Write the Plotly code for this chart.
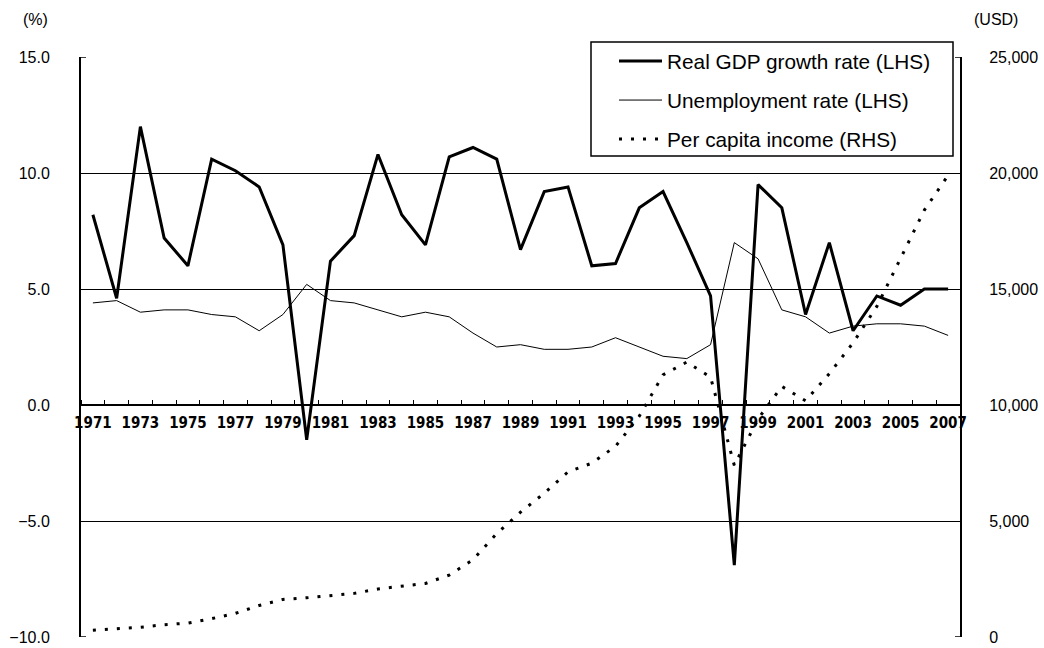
import plotly.graph_objects as go

years = list(range(1971, 2008))

gdp_growth = [8.2, 4.6, 12.0, 7.2, 6.0, 10.6, 10.1, 9.4, 6.9, -1.5,
              6.2, 7.3, 10.8, 8.2, 6.9, 10.7, 11.1, 10.6, 6.7, 9.2,
              9.4, 6.0, 6.1, 8.5, 9.2, 7.0, 4.7, -6.9, 9.5, 8.5,
              3.9, 7.0, 3.2, 4.7, 4.3, 5.0, 5.0]

unemployment = [4.4, 4.5, 4.0, 4.1, 4.1, 3.9, 3.8, 3.2, 3.9, 5.2,
                4.5, 4.4, 4.1, 3.8, 4.0, 3.8, 3.1, 2.5, 2.6, 2.4,
                2.4, 2.5, 2.9, 2.5, 2.1, 2.0, 2.6, 7.0, 6.3, 4.1,
                3.8, 3.1, 3.4, 3.5, 3.5, 3.4, 3.0]

per_capita_income = [290, 340, 420, 530, 600, 790, 1020, 1360, 1620, 1690,
                     1800, 1880, 2070, 2200, 2310, 2670, 3330, 4460, 5380, 6200,
                     7120, 7490, 8220, 9520, 11300, 11850, 11200, 7400, 9400, 10800,
                     10180, 11350, 12680, 14250, 16350, 18400, 19900]

left_ticks = [-10, -5, 0, 5, 10, 15]
right_ticks = [0, 5000, 10000, 15000, 20000, 25000]
label_years = list(range(1971, 2008, 2))

font_main = "Liberation Sans, Arial, sans-serif"
font_years = "DejaVu Sans Condensed, Liberation Sans Narrow, Arial Narrow, sans-serif"

# plot-area geometry in pixels
plot_l, plot_r, plot_t, plot_b = 81, 960, 57, 637
W, H = 1044, 648


def px_x(px):
    return (px - plot_l) / (plot_r - plot_l)


def px_y(py):
    return (plot_b - py) / (plot_b - plot_t)


fig = go.Figure()
fig.add_trace(go.Scatter(
    x=years, y=gdp_growth, mode="lines", name="Real GDP growth rate (LHS)",
    line=dict(color="black", width=3), legendgroup="a"))
fig.add_trace(go.Scatter(
    x=years, y=unemployment, mode="lines", name="Unemployment rate (LHS)",
    line=dict(color="black", width=1), legendgroup="b"))
fig.add_trace(go.Scatter(
    x=years, y=per_capita_income, mode="lines", name="Per capita income (RHS)",
    line=dict(color="black", width=3, dash="3px,9px"), yaxis="y2", legendgroup="c"))

# small end ticks at the top and bottom of both vertical axes
end_tick_len = 5 / (plot_r - plot_l)
end_ticks = []
for yv in (left_ticks[0], left_ticks[-1]):
    end_ticks.append(dict(type="line", xref="paper", yref="y",
                          x0=0, x1=end_tick_len, y0=yv, y1=yv,
                          line=dict(color="black", width=1.5)))
for yv in (right_ticks[0], right_ticks[-1]):
    end_ticks.append(dict(type="line", xref="paper", yref="y2",
                          x0=1 - end_tick_len, x1=1, y0=yv, y1=yv,
                          line=dict(color="black", width=1.5)))

fig.update_layout(
    width=W, height=H,
    margin=dict(l=plot_l, r=W - plot_r, t=plot_t, b=H - plot_b, autoexpand=False),
    paper_bgcolor="white", plot_bgcolor="white",
    font=dict(family=font_main, size=16, color="black"),
    showlegend=True,
    legend=dict(
        x=px_x(614), y=px_y(41), xanchor="left", yanchor="top",
        borderwidth=0, bgcolor="rgba(0,0,0,0)",
        font=dict(size=20.8, family=font_main),
        traceorder="grouped", tracegroupgap=9, itemwidth=43,
    ),
    xaxis=dict(
        range=[1970.5, 2007.5],
        tickmode="array", tickvals=label_years,
        ticktext=[str(y) for y in label_years],
        ticks="", showgrid=False, zeroline=False, automargin=False,
        showline=True, linecolor="black", linewidth=2,
        anchor="free", position=0.4, ticklabelstandoff=4,
        tickfont=dict(family=font_years, size=15, color="black", weight="bold"),
        minor=dict(tick0=1970.5, dtick=1, ticks="inside", ticklen=4,
                   tickcolor="black", tickwidth=1, showgrid=False),
    ),
    yaxis=dict(
        range=[-10, 15], tickmode="array", tickvals=left_ticks,
        tickformat=".1f", ticks="inside", ticklen=5, tickcolor="black",
        showgrid=True, gridcolor="black", gridwidth=1, automargin=False,
        zeroline=False, showline=True, linecolor="black", linewidth=2,
        ticklabelstandoff=26,
        tickfont=dict(size=16),
    ),
    yaxis2=dict(
        range=[0, 25000], overlaying="y", side="right",
        tickmode="array", tickvals=right_ticks, tickformat=",",
        ticks="inside", ticklen=5, tickcolor="black", automargin=False,
        showgrid=False, zeroline=False,
        showline=True, linecolor="black", linewidth=2,
        ticklabelstandoff=24,
        tickfont=dict(size=16),
    ),
    shapes=[
        dict(type="rect", xref="paper", yref="paper",
             x0=px_x(591), x1=px_x(953), y0=px_y(156), y1=px_y(42),
             line=dict(color="black", width=1.5), fillcolor="white", layer="below"),
    ] + end_ticks,
    annotations=[
        dict(text="(%)", x=px_x(35), y=px_y(20), xref="paper", yref="paper",
             xanchor="center", yanchor="middle",
             showarrow=False, font=dict(size=16)),
        dict(text="(USD)", x=px_x(996), y=px_y(20), xref="paper", yref="paper",
             xanchor="center", yanchor="middle",
             showarrow=False, font=dict(size=16)),
    ],
)

fig.write_html("out.html", config={"displayModeBar": False},
               post_script="document.body.style.margin='0';")
